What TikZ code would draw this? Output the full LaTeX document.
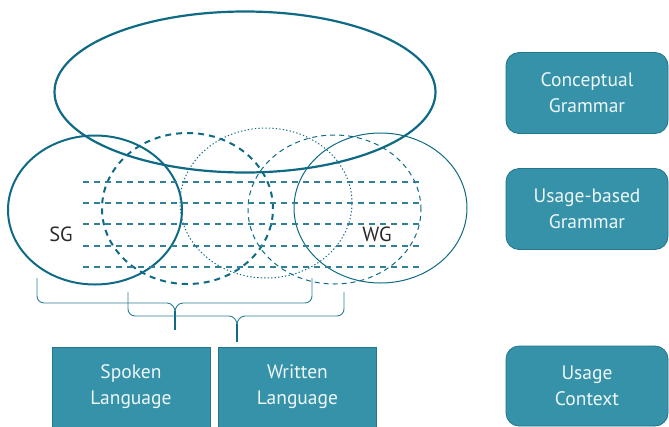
\documentclass[tikz,border=0pt]{standalone}
\usepackage{fontspec}
\setmainfont{PT Sans}
\usetikzlibrary{shapes.geometric}
\definecolor{ink}{HTML}{0E6A85}
\definecolor{bracec}{HTML}{2D7F96}
\definecolor{boxfill}{HTML}{3592A9}
\definecolor{boxline}{HTML}{23758C}
\definecolor{boxtext}{HTML}{EEF7F9}
\definecolor{labelc}{HTML}{2A2A2A}
\begin{document}
\begin{tikzpicture}[x=1pt,y=-1pt,
  ring/.style={ellipse, draw=ink, inner sep=0pt, outer sep=0pt},
  hline/.style={draw=ink!85, line width=1.2pt, dash pattern=on 6pt off 5pt},
  bracepath/.style={draw=bracec, line width=0.9pt},
  tipline/.style={draw=ink, line width=1.8pt},
  sqbox/.style={rectangle, fill=boxfill, draw=boxline, line width=0.8pt, text=boxtext,
    align=center, font=\fontsize{19.5}{26}\selectfont, minimum width=158pt, minimum height=80pt, inner sep=0pt},
  rbox/.style={rectangle, rounded corners=13pt, fill=boxfill, draw=boxline, line width=0.8pt, text=boxtext,
    align=center, font=\fontsize{19.5}{26}\selectfont, minimum width=162pt, minimum height=81pt, inner sep=0pt},
  lab/.style={text=labelc, font=\fontsize{20.5}{22}\selectfont, inner sep=0pt}
]
\useasboundingbox (0,0) rectangle (669,426);

% circles
\node[ring, line width=2.2pt, minimum width=381pt, minimum height=161pt] (CGe) at (245,92) {};
\node[ring, line width=2pt, minimum width=174pt, minimum height=149pt] (SGe) at (95,210) {};
\node[ring, line width=2pt, dash pattern=on 6pt off 5pt, minimum width=171pt, minimum height=151pt] (SLe) at (187.5,208.5) {};
\node[ring, line width=1pt, dash pattern=on 1.3pt off 2.2pt, minimum width=172pt, minimum height=150pt] (MLe) at (266,203) {};
\node[ring, line width=1pt, dash pattern=on 5pt off 4pt, minimum width=173pt, minimum height=149pt] (WLe) at (334.5,209.5) {};
\node[ring, line width=1pt, minimum width=173pt, minimum height=150pt] (WGe) at (380.5,208) {};

% horizontal dashed lines
\foreach \yy in {182,203,224,246,267}
  \draw[hline] (83,\yy) -- (420,\yy);

% labels
\node[lab] (SG) at (61,234) {SG};
\node[lab] (WG) at (377,234) {WG};

% braces
\coordinate (b1l) at (37,278);
\coordinate (b1r) at (312,278);
\coordinate (b1t) at (175,330);
\coordinate (b2l) at (128,292);
\coordinate (b2r) at (344,292);
\coordinate (b2t) at (237,342);

\draw[bracepath] (b1l) -- (37,296) to[out=-90,in=180] (44,303) -- (167,303) to[out=0,in=90] (175,312);
\draw[bracepath] (b1r) -- (312,296) to[out=-90,in=0] (305,303) -- (183,303) to[out=180,in=90] (175,312);
\draw[tipline] (175,311) -- (b1t);

\draw[bracepath] (b2l) -- (128,309) to[out=-90,in=180] (135,316) -- (229,316) to[out=0,in=90] (237,325);
\draw[bracepath] (b2r) -- (344,309) to[out=-90,in=0] (337,316) -- (245,316) to[out=180,in=90] (237,325);
\draw[tipline] (237,324) -- (b2t);

% bottom boxes
\node[sqbox] (SL) at (131,387) {Spoken\\Language};
\node[sqbox] (WL) at (297.5,387) {Written\\Language};

% right boxes
\node[rbox] (CG) at (587,93) {Conceptual\\Grammar};
\node[rbox] (UG) at (587,209) {Usage-based\\Grammar};
\node[rbox, minimum height=80pt] (UC) at (587,386) {Usage\\Context};
\end{tikzpicture}
\end{document}
